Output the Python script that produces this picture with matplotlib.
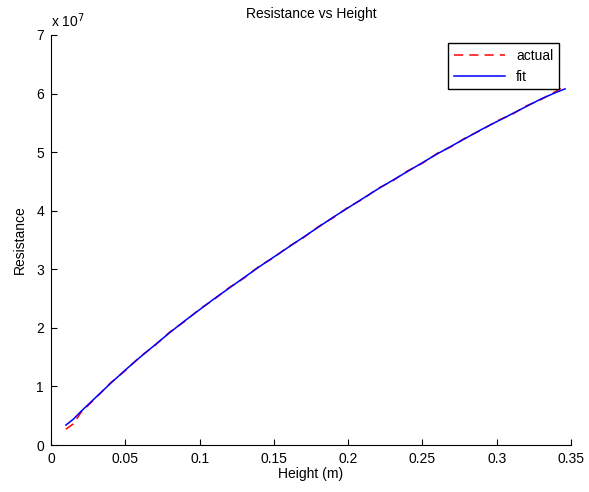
import numpy as np
import matplotlib
matplotlib.use("Agg")
import matplotlib.pyplot as plt
from matplotlib.ticker import FuncFormatter

plt.rcParams['font.family'] = ['Liberation Sans', 'DejaVu Sans']

# height (m)
height = [0.010, 0.015, 0.020, 0.030, 0.040, 0.050, 0.060, 0.070, 0.080, 0.090,
          0.100, 0.110, 0.120, 0.130, 0.140, 0.150, 0.160, 0.170, 0.180, 0.190,
          0.200, 0.210, 0.220, 0.230, 0.240, 0.250, 0.260, 0.270, 0.280, 0.290,
          0.300, 0.310, 0.320, 0.330, 0.340, 0.346]

# resistance, in units of 1e7
actual = [0.27, 0.36, 0.55, 0.80, 1.06, 1.27, 1.51, 1.70, 1.93, 2.11,
          2.32, 2.49, 2.69, 2.85, 3.05, 3.20, 3.39, 3.54, 3.73, 3.88,
          4.06, 4.20, 4.38, 4.51, 4.68, 4.81, 4.98, 5.10, 5.26, 5.38,
          5.53, 5.64, 5.79, 5.90, 6.04, 6.13]
fit = [0.34, 0.44, 0.57, 0.81, 1.05, 1.28, 1.50, 1.71, 1.92, 2.12,
       2.31, 2.50, 2.68, 2.86, 3.04, 3.21, 3.38, 3.55, 3.72, 3.89,
       4.05, 4.21, 4.37, 4.52, 4.67, 4.82, 4.97, 5.11, 5.25, 5.39,
       5.52, 5.65, 5.78, 5.91, 6.02, 6.08]

fig = plt.figure(figsize=(5.89, 4.92), dpi=100)
ax = fig.add_axes([0.0866, 0.0955, 0.8828, 0.8334])

ax.plot(height, np.array(actual) * 1e7, 'r--', lw=1.1, dashes=(6, 4), label='actual')
ax.plot(height, np.array(fit) * 1e7, 'b-', lw=1.1, label='fit')

ax.set_xlim(0, 0.35)
ax.set_ylim(0, 7e7)
ax.set_xticks(np.arange(0, 0.351, 0.05))
ax.set_xticklabels(['0', '0.05', '0.1', '0.15', '0.2', '0.25', '0.3', '0.35'])
ax.set_yticks(np.arange(0, 7.01e7, 1e7))
ax.yaxis.set_major_formatter(FuncFormatter(lambda v, p: '%d' % round(v / 1e7)))

ax.spines['top'].set_visible(False)
ax.spines['right'].set_visible(False)
ax.tick_params(direction='in', length=4, labelsize=10, pad=5)

ax.set_xlabel('Height (m)', fontsize=10, labelpad=1)
ax.set_ylabel('Resistance', fontsize=10, labelpad=7)
ax.set_title('Resistance vs Height', fontsize=10, pad=12)
ax.text(0.0, 1.012, r'x 10$^7$', transform=ax.transAxes, fontsize=10,
        ha='left', va='bottom')

leg = ax.legend(loc='upper right', bbox_to_anchor=(0.977, 0.98), borderaxespad=0,
                fancybox=False, edgecolor='black', fontsize=10, handlelength=3.7,
                framealpha=1)
leg.get_frame().set_linewidth(1)

fig.savefig('out.png', dpi=100)
